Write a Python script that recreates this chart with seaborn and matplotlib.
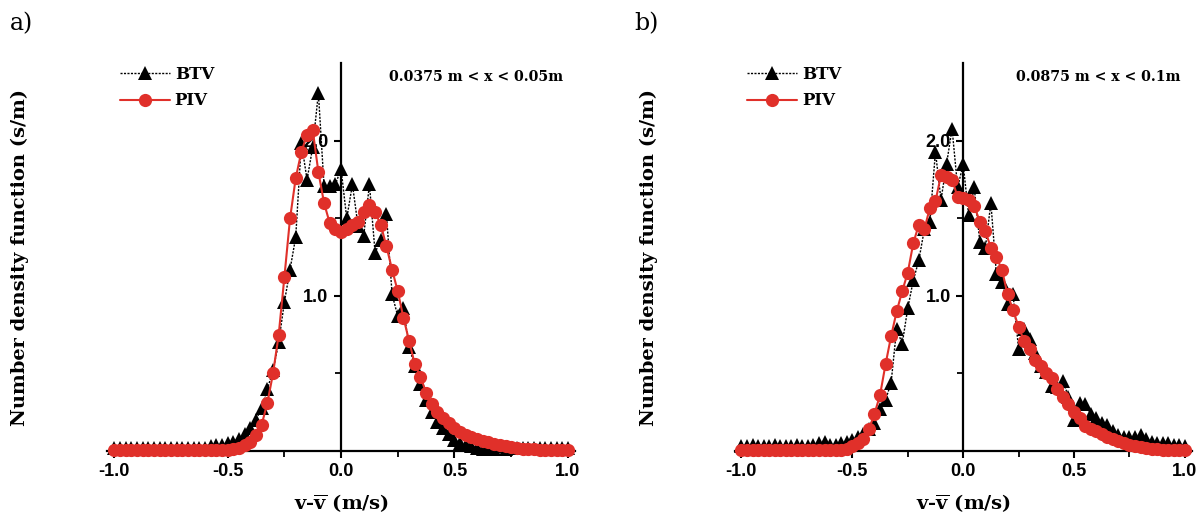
import matplotlib
matplotlib.use("Agg")
import matplotlib.pyplot as plt
import seaborn as sns
import pandas as pd

# ---------------- data ----------------
VELOCITY = [-1.0, -0.975, -0.95, -0.925, -0.9, -0.875, -0.85, -0.825, -0.8, -0.775,
            -0.75, -0.725, -0.7, -0.675, -0.65, -0.625, -0.6, -0.575, -0.55, -0.525,
            -0.5, -0.475, -0.45, -0.425, -0.4, -0.375, -0.35, -0.325, -0.3, -0.275,
            -0.25, -0.225, -0.2, -0.175, -0.15, -0.125, -0.1, -0.075, -0.05, -0.025,
            0.0, 0.025, 0.05, 0.075, 0.1, 0.125, 0.15, 0.175, 0.2, 0.225,
            0.25, 0.275, 0.3, 0.325, 0.35, 0.375, 0.4, 0.425, 0.45, 0.475,
            0.5, 0.525, 0.55, 0.575, 0.6, 0.625, 0.65, 0.675, 0.7, 0.725,
            0.75, 0.775, 0.8, 0.825, 0.85, 0.875, 0.9, 0.925, 0.95, 0.975, 1.0]

BTV_A = [0.02, 0.02, 0.02, 0.02, 0.02, 0.02, 0.02, 0.02, 0.02, 0.02,
         0.02, 0.02, 0.02, 0.02, 0.02, 0.02, 0.02, 0.03, 0.04, 0.04,
         0.05, 0.06, 0.08, 0.11, 0.15, 0.20, 0.28, 0.40, 0.52, 0.70,
         0.96, 1.17, 1.38, 1.99, 1.75, 1.96, 2.31, 1.71, 1.71, 1.72,
         1.82, 1.50, 1.72, 1.45, 1.39, 1.72, 1.28, 1.36, 1.53, 1.01,
         0.87, 0.92, 0.67, 0.55, 0.43, 0.33, 0.25, 0.19, 0.15, 0.11,
         0.07, 0.05, 0.04, 0.03, 0.02, 0.015, 0.01, 0.01, 0.03, 0.01,
         0.02, 0.02, 0.02, 0.02, 0.02, 0.02, 0.02, 0.02, 0.02, 0.02, 0.02]

PIV_A = [0.005, 0.005, 0.005, 0.005, 0.005, 0.005, 0.005, 0.005, 0.005, 0.005,
         0.005, 0.005, 0.005, 0.005, 0.005, 0.005, 0.005, 0.005, 0.005, 0.005,
         0.005, 0.01, 0.02, 0.04, 0.06, 0.10, 0.17, 0.31, 0.50, 0.75,
         1.12, 1.50, 1.76, 1.93, 2.04, 2.07, 1.80, 1.60, 1.47, 1.43,
         1.415, 1.43, 1.46, 1.48, 1.54, 1.59, 1.54, 1.46, 1.32, 1.17,
         1.03, 0.86, 0.71, 0.56, 0.48, 0.375, 0.30, 0.25, 0.21, 0.18,
         0.15, 0.12, 0.10, 0.09, 0.075, 0.065, 0.055, 0.045, 0.04, 0.03,
         0.025, 0.02, 0.015, 0.012, 0.01, 0.006, 0.006, 0.005, 0.005, 0.005, 0.005]

BTV_B = [0.03, 0.03, 0.04, 0.03, 0.03, 0.03, 0.04, 0.03, 0.03, 0.03,
         0.04, 0.03, 0.03, 0.04, 0.05, 0.06, 0.04, 0.04, 0.05, 0.06,
         0.07, 0.09, 0.11, 0.14, 0.18, 0.27, 0.33, 0.44, 0.79, 0.69,
         0.92, 1.10, 1.23, 1.43, 1.48, 1.93, 1.62, 1.85, 2.08, 1.70,
         1.85, 1.52, 1.70, 1.35, 1.31, 1.60, 1.14, 1.09, 0.95, 1.01,
         0.66, 0.79, 0.72, 0.63, 0.55, 0.51, 0.42, 0.415, 0.45, 0.35,
         0.20, 0.31, 0.30, 0.24, 0.21, 0.18, 0.17, 0.13, 0.10, 0.09,
         0.09, 0.09, 0.10, 0.08, 0.06, 0.05, 0.05, 0.05, 0.04, 0.04, 0.03]

PIV_B = [0.005, 0.005, 0.005, 0.005, 0.005, 0.005, 0.005, 0.005, 0.005, 0.005,
         0.005, 0.005, 0.005, 0.005, 0.005, 0.005, 0.005, 0.005, 0.006, 0.015,
         0.03, 0.05, 0.08, 0.14, 0.24, 0.36, 0.56, 0.74, 0.90, 1.03,
         1.15, 1.34, 1.46, 1.43, 1.57, 1.61, 1.78, 1.77, 1.75, 1.64,
         1.63, 1.62, 1.58, 1.48, 1.42, 1.31, 1.25, 1.17, 1.01, 0.91,
         0.80, 0.71, 0.66, 0.59, 0.55, 0.50, 0.47, 0.40, 0.35, 0.30,
         0.25, 0.21, 0.16, 0.14, 0.13, 0.11, 0.09, 0.08, 0.065, 0.05,
         0.04, 0.03, 0.025, 0.02, 0.013, 0.01, 0.005, 0.005, 0.005, 0.005, 0.005]

PANEL_TAGS = ["a)", "b)"]
RANGES = ["0.0375 m < x < 0.05m", "0.0875 m < x < 0.1m"]
SERIES_NAMES = ["BTV", "PIV"]
X_TICKS = [-1.0, -0.5, 0.0, 0.5, 1.0]
X_TICK_LABELS = ["-1.0", "-0.5", "0.0", "0.5", "1.0"]
Y_TICKS = [1.0, 2.0]
Y_TICK_LABELS = ["1.0", "2.0"]

# ---------------- style ----------------
sns.set_style("ticks")
plt.rcParams["font.family"] = ["DejaVu Serif"]
plt.rcParams["mathtext.fontset"] = "custom"
plt.rcParams["mathtext.rm"] = "DejaVu Serif:bold"
plt.rcParams["mathtext.it"] = "DejaVu Serif:bold"
plt.rcParams["mathtext.bf"] = "DejaVu Serif:bold"
for key in ["text.color", "axes.labelcolor", "xtick.color", "ytick.color", "axes.edgecolor"]:
    plt.rcParams[key] = "black"

RED = "#e0302a"
SERIF = "DejaVu Serif"
SANS = "Liberation Sans"

fig = plt.figure(figsize=(12.02, 5.16), dpi=100)
positions = [[0.0894, 0.126, 0.3887, 0.751], [0.6113, 0.126, 0.380, 0.751]]

panels = [(BTV_A, PIV_A), (BTV_B, PIV_B)]

for i, (btv, piv) in enumerate(panels):
    ax = fig.add_axes(positions[i])
    df = pd.DataFrame({"v": VELOCITY, "btv": btv, "piv": piv})
    sns.lineplot(data=df, x="v", y="btv", ax=ax, color="black",
                 linestyle=(0, (1.5, 1.0)), linewidth=1.0,
                 marker="^", markersize=10, markeredgewidth=0,
                 label=SERIES_NAMES[0], zorder=3, clip_on=False,
                 estimator=None, sort=False)
    sns.lineplot(data=df, x="v", y="piv", ax=ax, color=RED,
                 linestyle="-", linewidth=1.5,
                 marker="o", markersize=9.5, markeredgewidth=0,
                 label=SERIES_NAMES[1], zorder=4, clip_on=False,
                 estimator=None, sort=False)

    ax.set_xlim(-1.03, 1.03)
    ax.set_ylim(0, 2.5)
    for s in ["top", "right"]:
        ax.spines[s].set_visible(False)
    ax.spines["left"].set_position(("data", 0))
    ax.spines["bottom"].set_position(("data", 0))
    for s in ["left", "bottom"]:
        ax.spines[s].set_linewidth(1.6)
        ax.spines[s].set_color("black")
        ax.spines[s].set_zorder(2)

    ax.set_xticks(X_TICKS)
    ax.set_xticklabels(X_TICK_LABELS)
    ax.set_xticks([-0.75, -0.25, 0.25, 0.75], minor=True)
    ax.set_yticks(Y_TICKS)
    ax.set_yticklabels(Y_TICK_LABELS)
    ax.set_yticks([0.5, 1.5], minor=True)
    ax.tick_params(which="major", direction="out", length=5, width=1.5, pad=4, colors="black")
    ax.tick_params(which="minor", direction="out", length=4, width=1.3, colors="black")
    for lab in ax.get_xticklabels() + ax.get_yticklabels():
        lab.set_fontfamily(SANS)
        lab.set_fontweight("bold")
        lab.set_fontsize(13)

    ax.set_xlabel(r"v-$\overline{\mathrm{v}}$ (m/s)", fontsize=14, fontweight="bold")
    ax.xaxis.set_label_coords(0.5, -0.105)
    ax.set_ylabel("Number density function (s/m)", fontsize=14, fontweight="bold")
    ax.yaxis.set_label_coords(-0.168, 0.5)

    ax.text(0.975, 0.966, RANGES[i], transform=ax.transAxes, ha="right", va="center",
            fontsize=10.2, fontweight="bold")

    leg = ax.legend(loc="center left", bbox_to_anchor=(0.012, 0.937), frameon=False,
                    handlelength=3.0, handletextpad=0.3, labelspacing=0.55,
                    borderaxespad=0.0, prop={"family": SERIF, "weight": "bold", "size": 12})
    for t in leg.get_texts():
        t.set_color("black")

fig.text(0.008, 0.955, PANEL_TAGS[0], fontsize=17, va="center", ha="left")
fig.text(0.528, 0.955, PANEL_TAGS[1], fontsize=17, va="center", ha="left")

fig.savefig("out.png", dpi=100, facecolor="white")
